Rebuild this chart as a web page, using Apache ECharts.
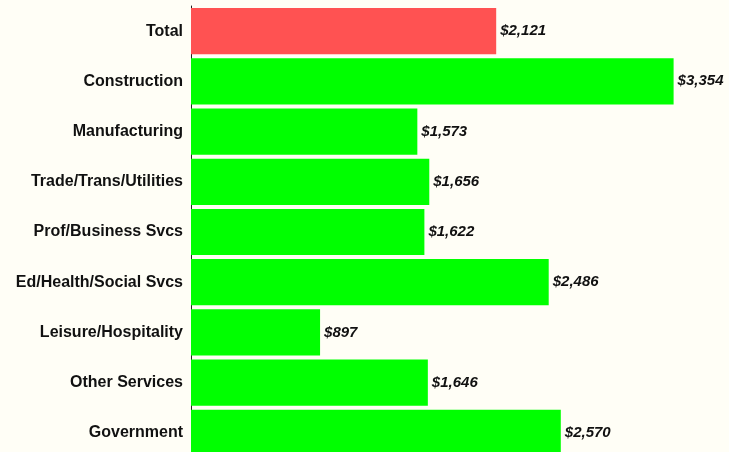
<!DOCTYPE html>
<html>
<head>
<meta charset="UTF-8">
<title>Sector chart</title>
<script src="https://cdn.jsdelivr.net/npm/echarts@6/dist/echarts.min.js"></script>
<style>
  html, body { margin: 0; padding: 0; background: #FFFEF6; }
  #chart { width: 729px; height: 452px; }
</style>
</head>
<body>
<div id="chart"></div>
<script>
var categories = ['Total', 'Construction', 'Manufacturing', 'Trade/Trans/Utilities', 'Prof/Business Svcs',
  'Ed/Health/Social Svcs', 'Leisure/Hospitality', 'Other Services', 'Government'];
var values = [2121, 3354, 1573, 1656, 1622, 2486, 897, 1646, 2570];
var barColors = ['#FF5252', '#00FF00', '#00FF00', '#00FF00', '#00FF00', '#00FF00', '#00FF00', '#00FF00', '#00FF00'];

var chart = echarts.init(document.getElementById('chart'));
var option = {
  backgroundColor: '#FFFEF6',
  animation: false,
  grid: { left: 191, right: 20, top: 6, height: 452, outerBoundsMode: 'none' },
  xAxis: {
    type: 'value',
    min: 0,
    max: 3600,
    show: false
  },
  yAxis: {
    type: 'category',
    inverse: true,
    data: categories,
    axisLine: { show: true, lineStyle: { color: '#222', width: 1 } },
    axisTick: { show: false },
    axisLabel: {
      margin: 8,
      color: '#111',
      fontFamily: 'Liberation Sans, Arial, sans-serif',
      fontWeight: 'bold',
      fontSize: 16
    }
  },
  series: [{
    type: 'bar',
    barCategoryGap: '8%',
    data: values.map(function (v, i) {
      return { value: v, itemStyle: { color: barColors[i] } };
    }),
    label: {
      show: true,
      position: 'right',
      distance: 4,
      color: '#111',
      fontFamily: 'Liberation Sans, Arial, sans-serif',
      fontWeight: 'bold',
      fontStyle: 'italic',
      fontSize: 15,
      formatter: function (p) {
        return '$' + p.value.toLocaleString('en-US');
      }
    }
  }]
};
chart.setOption(option);
</script>
</body>
</html>
